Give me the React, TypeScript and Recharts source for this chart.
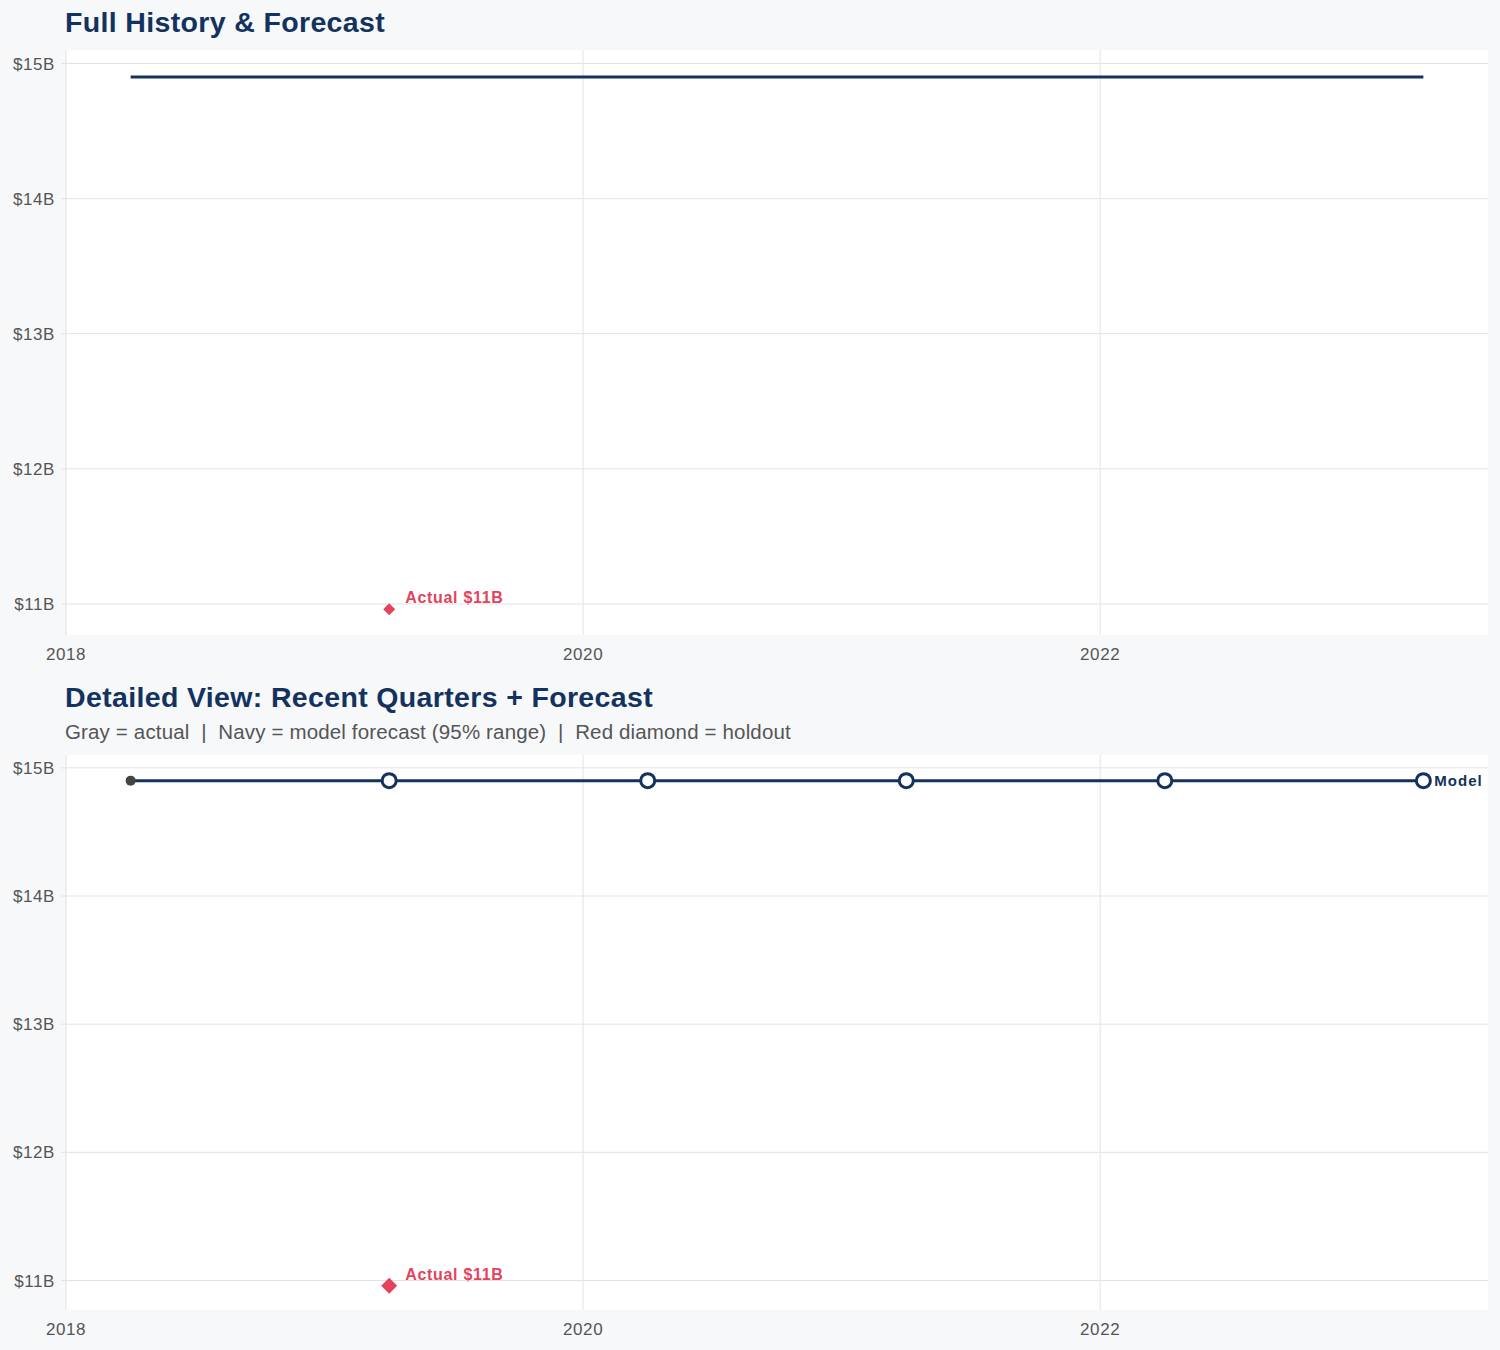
import React from 'react';
import { Line, XAxis, YAxis, CartesianGrid, Scatter, ComposedChart, ReferenceLine } from 'recharts';

// quarter positions as decimal years
const quarters = [2018.25, 2019.25, 2020.25, 2021.25, 2022.25, 2023.25];
const forecastValues = [14.9, 14.9, 14.9, 14.9, 14.9, 14.9];
const actualQuarters = [2018.25];
const actualValues = [14.9];
const holdoutQuarter = 2019.25;
const holdoutValue = 10.96;
const holdoutLabel = 'Actual $11B';

const xTicks = [2018, 2020, 2022];
const yTicks = [11, 12, 13, 14, 15];
const xDomain = [2018, 2023.5];
const yDomain = [10.77, 15.1];

const NAVY = '#13325e';
const RED = '#e3435d';
const GRAY_TEXT = '#555';
const GRID = '#e3e3e3';
const FONT = '"Liberation Sans", Arial, Helvetica, sans-serif';

const forecastData = quarters.map((q, i) => ({ x: q, y: forecastValues[i] }));
const actualData = actualQuarters.map((q, i) => ({ x: q, y: actualValues[i] }));
const holdoutData = [{ x: holdoutQuarter, y: holdoutValue }];

const fmtY = (v: number) => `$${v}B`;

function HoldoutShape(size: number) {
  return (props: any) => {
    const { cx, cy } = props;
    if (cx == null || cy == null) return <g />;
    return (
      <g>
        <path d={`M${cx},${cy - size} L${cx + size},${cy} L${cx},${cy + size} L${cx - size},${cy} Z`} fill={RED} />
        <text x={cx + 16} y={cy - 6} fill={RED} fontSize={16} fontWeight="bold" fontFamily={FONT} letterSpacing={0.7}>
          {holdoutLabel}
        </text>
      </g>
    );
  };
}

function ForecastDot(props: any) {
  const { cx, cy, index } = props;
  if (index === 0) return <g key={`d${index}`} />;
  const last = index === quarters.length - 1;
  return (
    <g key={`d${index}`}>
      <circle cx={cx} cy={cy} r={7} fill="#fff" stroke={NAVY} strokeWidth={3} />
      {last && (
        <text x={cx + 11} y={cy + 5.5} fill={NAVY} fontSize={15} fontWeight="bold" fontFamily={FONT} letterSpacing={1}>
          Model
        </text>
      )}
    </g>
  );
}

const axisTick = { fill: GRAY_TEXT, fontSize: 17, fontFamily: FONT, letterSpacing: 0.6 };

function Panel({ height, detailed }: { height: number; detailed: boolean }) {
  return (
    <ComposedChart width={1500} height={height} margin={{ top: 0, right: 12, left: 0, bottom: 0 }}>
      <CartesianGrid fill="#fff" horizontal={false} vertical={false} />
      {xTicks.map((t) => (
        <ReferenceLine key={`vx${t}`} x={t} stroke={GRID} strokeWidth={1} />
      ))}
      {yTicks.map((t) => (
        <ReferenceLine key={`hy${t}`} y={t} stroke={GRID} strokeWidth={1} />
      ))}
      <XAxis
        type="number" dataKey="x" domain={xDomain} ticks={xTicks} allowDataOverflow
        tick={axisTick} tickLine={false} axisLine={false} height={40} tickMargin={7}
      />
      <YAxis
        type="number" dataKey="y" domain={yDomain} ticks={yTicks} allowDataOverflow
        tickFormatter={fmtY} tick={axisTick} tickLine={{ stroke: GRID }} tickSize={5} tickMargin={6}
        axisLine={false} width={66}
      />
      <Line
        data={forecastData} dataKey="y" type="linear" stroke={NAVY} strokeWidth={3}
        dot={detailed ? ForecastDot : false} activeDot={false} isAnimationActive={false}
      />
      {detailed && (
        <Scatter
          data={actualData} dataKey="y" fill="#444"
          shape={(p: any) => <circle cx={p.cx} cy={p.cy} r={5} fill="#444" />}
          isAnimationActive={false}
        />
      )}
      <Scatter data={holdoutData} dataKey="y" shape={HoldoutShape(detailed ? 8 : 6)} isAnimationActive={false} />
    </ComposedChart>
  );
}

const titleStyle: React.CSSProperties = {
  position: 'absolute', left: 65, fontSize: 28.5, fontWeight: 'bold', color: NAVY, letterSpacing: 0.35, whiteSpace: 'nowrap',
};

export default function App() {
  return (
    <div style={{ position: 'absolute', left: 0, top: 0, width: 1500, height: 1350, background: '#f7f8fa', fontFamily: FONT }}>
      <div style={{ ...titleStyle, top: 6 }}>Full History &amp; Forecast</div>
      <div style={{ position: 'absolute', left: 0, top: 50 }}>
        <Panel height={625} detailed={false} />
      </div>

      <div style={{ ...titleStyle, top: 681 }}>Detailed View: Recent Quarters + Forecast</div>
      <div style={{ position: 'absolute', left: 65, top: 720, fontSize: 20.5, color: GRAY_TEXT, whiteSpace: 'pre', letterSpacing: 0.15 }}>
        {'Gray = actual  |  Navy = model forecast (95% range)  |  Red diamond = holdout'}
      </div>
      <div style={{ position: 'absolute', left: 0, top: 755 }}>
        <Panel height={595} detailed={true} />
      </div>
    </div>
  );
}
